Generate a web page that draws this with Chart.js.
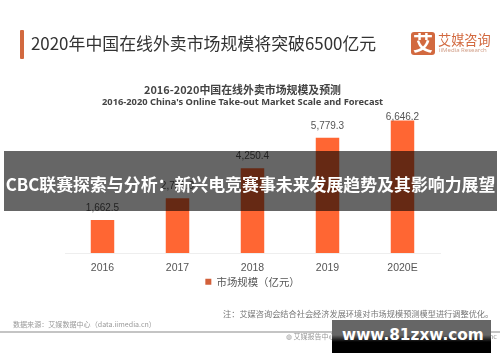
<!DOCTYPE html>
<html><head><meta charset="utf-8">
<script src="https://cdn.jsdelivr.net/npm/chart.js@4"></script>
<style>
html,body{margin:0;padding:0;background:#fff;}
#w{position:relative;width:500px;height:362px;overflow:hidden;font-family:"Noto Sans CJK SC","Noto Sans",sans-serif;}
#soft{position:absolute;left:0;top:0;width:500px;height:362px;filter:blur(0.45px);}
canvas{position:absolute;left:0;top:0;}
.t{position:absolute;white-space:nowrap;line-height:1;}
.b{position:absolute;}
</style></head><body>
<div id="w">
 <div id="soft">
  <canvas id="c" width="500" height="362"></canvas>
  <div class="b" style="left:20px;top:30px;width:4px;height:29px;background:#d2693f;border-radius:1px"></div>
  <div class="t" style="left:31px;top:35px;font-size:16.9px;color:#333">2020年中国在线外卖市场规模将突破6500亿元</div>
  <div class="b" style="left:411px;top:32px;width:24px;height:23px;background:#d2693f;border-radius:3px"></div>
  <div class="t" style="left:413px;top:33px;font-size:20px;font-weight:700;color:#fff">艾</div>
  <div class="t" style="left:438px;top:33px;font-size:13.2px;color:#d2693f">艾媒咨询</div>
  <div class="t" style="left:439px;top:47px;font-size:6px;color:#d2a08a;font-family:'Noto Sans'">iiMedia Research</div>
  <div class="t" style="left:144px;top:84px;font-size:10.9px;font-weight:700;color:#444">2016-2020中国在线外卖市场规模及预测</div>
  <div class="t" style="left:102px;top:97px;font-size:9.3px;font-weight:700;color:#444;font-family:'Noto Sans'">2016-2020 China's Online Take-out Market Scale and Forecast</div>
  <div class="t" style="left:223px;top:308.5px;font-size:8.2px;color:#777">注：艾媒咨询会结合社会经济发展环境对市场规模预测模型进行调整优化。</div>
  <div class="t" style="left:13px;top:320.5px;font-size:7.07px;color:#999">数据来源：艾媒数据中心（data.iimedia.cn）</div>
  <div class="b" style="left:0;top:331px;width:500px;height:1.5px;background:#c4c4c4"></div>
  <div class="t" style="left:286px;top:333px;font-size:7px;color:#999">◍ 艾媒报告中心</div>
  <div class="t" style="left:487px;top:333px;font-size:7px;color:#999">Inc</div>
 </div>
 <div class="b" style="left:4px;top:151px;width:493px;height:60px;background:rgba(0,0,0,.6)"></div>
 <div class="t" style="left:4px;top:176px;width:493px;text-align:center;font-size:16.9px;font-weight:700;color:#fff">CBC联赛探索与分析：新兴电竞赛事未来发展趋势及其影响力展望</div>
 <div class="b" style="left:332px;top:320px;width:159px;height:33px;background:linear-gradient(#666 0,#666 15px,#000 22px,#000 100%)"></div>
 <div class="t" style="left:342px;top:328px;font-size:15.3px;font-weight:700;color:#fff;font-family:'DejaVu Sans';">www.81zxw.com</div>
</div>
<script>
const categories=["2016","2017","2018","2019","2020E"];
const seriesName="市场规模（亿元）";
const marketScale=[1662.5,2755.0,4250.4,5779.3,6646.2];
const valueLabels=["1,662.5","2,755.0","4,250.4","5,779.3","6,646.2"];
const labelGaps=[7,7,7,7,-2];
const labelPlugin={id:"valueLabels",afterDatasetsDraw(ch){
  const g=ch.ctx,m=ch.getDatasetMeta(0);
  g.save();g.font='10px "Liberation Sans","Noto Sans",sans-serif';g.fillStyle="#555";g.textAlign="center";g.textBaseline="bottom";
  m.data.forEach((el,i)=>g.fillText(valueLabels[i],el.x,el.y-labelGaps[i]));
  g.restore();
}};
new Chart(document.getElementById("c"),{
 type:"bar",
 data:{labels:categories,datasets:[{label:seriesName,data:marketScale,backgroundColor:"#ff6633",barPercentage:1,categoryPercentage:0.313}]},
 plugins:[labelPlugin],
 options:{responsive:false,animation:false,
  layout:{padding:{left:65,right:60,top:113.5,bottom:65}},
  plugins:{tooltip:{enabled:false},
   legend:{display:true,position:"bottom",labels:{boxWidth:6,boxHeight:6,padding:0,color:"#555",font:{size:10.4,family:'"Noto Sans CJK SC"'},
     generateLabels(){return [{text:seriesName,fillStyle:"#d2603a",strokeStyle:"#d2603a",lineWidth:0,fontColor:"#555"}];}}}},
  scales:{
   x:{grid:{display:false,drawTicks:false},border:{color:"#eeeeee"},ticks:{padding:9,color:"#555",font:{size:10.5,family:'"Liberation Sans"'},maxRotation:0},
      afterFit(s){s.height=23.5;}},
   y:{display:false,min:0,max:7000}
  }}
});
</script>
</body></html>
